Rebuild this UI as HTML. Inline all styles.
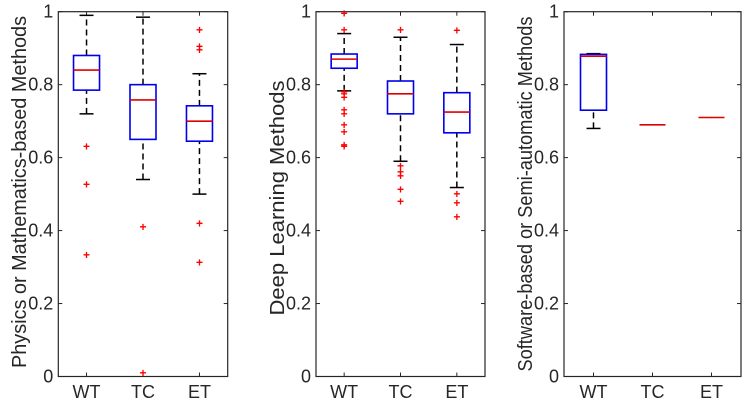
<!DOCTYPE html>
<html><head><meta charset="utf-8"><style>
html,body{margin:0;padding:0;background:#fff;}
svg{display:block;font-family:"Liberation Sans",sans-serif;}
</style></head><body>
<svg id="chart" width="747" height="402" viewBox="0 0 747 402"></svg>
<script>
const categories = ["WT","TC","ET"];
const yTicks = [0,0.2,0.4,0.6,0.8,1];
const yTickLabels = ["0","0.2","0.4","0.6","0.8","1"];
const panelTitles = ["Physics or Mathematics-based Methods","Deep Learning Methods","Software-based or Semi-automatic Methods"];
// [whiskerLow, q1, median, q3, whiskerHigh]
const physicsStats = [[0.72,0.785,0.84,0.88,0.99],[0.54,0.65,0.758,0.80,0.985],[0.50,0.645,0.70,0.742,0.83]];
const physicsOutliers = [[0.63,0.527,0.333],[0.41,0.01],[0.95,0.905,0.895,0.42,0.313]];
const deepStats = [[0.783,0.845,0.87,0.884,0.94],[0.59,0.72,0.775,0.81,0.93],[0.518,0.668,0.725,0.778,0.91]];
const deepOutliers = [[0.995,0.95,0.78,0.775,0.765,0.73,0.72,0.69,0.67,0.635,0.63],[0.95,0.577,0.56,0.55,0.512,0.48],[0.948,0.50,0.475,0.437]];
const softStats = [[0.68,0.73,0.878,0.883,0.885],[0.69,0.69,0.69,0.69,0.69],[0.71,0.71,0.71,0.71,0.71]];
const softOutliers = [[],[],[]];

const NS="http://www.w3.org/2000/svg";
const svg=document.getElementById('chart');
function mk(tag,attrs,parent){const e=document.createElementNS(NS,tag);for(const k in attrs)e.setAttribute(k,attrs[k]);(parent||svg).appendChild(e);return e;}

const panels=[
 {left:58.3,right:227.7,stats:physicsStats,out:physicsOutliers,title:panelTitles[0],labelX:19,labelY:192,labelLen:352,name:'physics'},
 {left:316,right:485,stats:deepStats,out:deepOutliers,title:panelTitles[1],labelX:277,labelY:198,labelLen:235,name:'deep-learning'},
 {left:564,right:741,stats:softStats,out:softOutliers,title:panelTitles[2],labelX:525,labelY:194,labelLen:355,name:'software'}
];
const axTop=11.7,axBottom=376.5;
panels.forEach(p=>{
 const g=mk('g',{});
 
 
 const y=v=>axBottom-v*(axBottom-axTop);
 const x=i=>p.left+(i+0.5)*(p.right-p.left)/categories.length;
 const ax=mk('rect',{x:p.left,y:axTop,width:p.right-p.left,height:axBottom-axTop,fill:'none',stroke:'#262626','stroke-width':1.2},g);
 
 
 yTicks.forEach((t,i)=>{
  mk('line',{x1:p.left,x2:p.left+4,y1:y(t),y2:y(t),stroke:'#262626'},g);
  mk('line',{x1:p.right,x2:p.right-4,y1:y(t),y2:y(t),stroke:'#262626'},g);
  const tl=mk('text',{x:p.left-5,y:y(t)+6,'text-anchor':'end','font-size':18,fill:'#262626'},g);
  tl.textContent=yTickLabels[i];
  
  
 });
 categories.forEach((c,i)=>{
  mk('line',{x1:x(i),x2:x(i),y1:axBottom,y2:axBottom-4,stroke:'#262626'},g);
  mk('line',{x1:x(i),x2:x(i),y1:axTop,y2:axTop+4,stroke:'#262626'},g);
  const xl=mk('text',{x:x(i),y:398,'text-anchor':'middle','font-size':18,fill:'#262626'},g);
  xl.textContent=c;
  
  
  const s=p.stats[i];const cx=x(i);const bw=13;const cw=7;
  const bg=mk('g',{},g);
  
  
  mk('line',{x1:cx,x2:cx,y1:y(s[3]),y2:y(s[4]),stroke:'#000','stroke-width':1.5,'stroke-dasharray':'6,4'},bg);
  mk('line',{x1:cx,x2:cx,y1:y(s[0]),y2:y(s[1]),stroke:'#000','stroke-width':1.5,'stroke-dasharray':'6,4'},bg);
  if(s[4]>s[0]){
   mk('line',{x1:cx-cw,x2:cx+cw,y1:y(s[4]),y2:y(s[4]),stroke:'#000','stroke-width':1.5},bg);
   mk('line',{x1:cx-cw,x2:cx+cw,y1:y(s[0]),y2:y(s[0]),stroke:'#000','stroke-width':1.5},bg);
   mk('rect',{x:cx-bw,y:y(s[3]),width:2*bw,height:y(s[1])-y(s[3]),fill:'none',stroke:'#0000ee','stroke-width':1.6},bg);
  }
  mk('line',{x1:cx-bw,x2:cx+bw,y1:y(s[2]),y2:y(s[2]),stroke:'#e00000','stroke-width':1.6},bg);
  p.out[i].forEach(v=>{
   const o=mk('text',{x:cx,y:y(v)+4,'text-anchor':'middle','font-size':12,'font-weight':'bold',fill:'#ff0000'},bg);
   o.textContent='+';
   
   
  });
 });
 const yl=mk('text',{x:p.labelX,y:p.labelY,'text-anchor':'middle','font-size':20,fill:'#262626',textLength:p.labelLen,lengthAdjust:'spacingAndGlyphs',transform:`rotate(-90 ${p.labelX} ${p.labelY})`,dy:7},g);
 yl.textContent=p.title;
 
 
});
</script>
</body></html>
